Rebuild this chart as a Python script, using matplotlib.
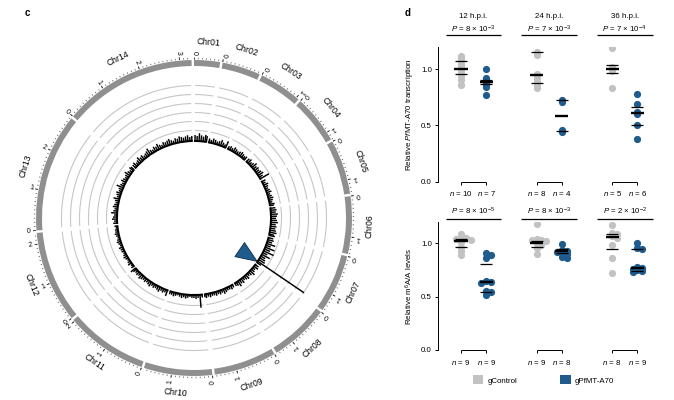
import numpy as np
import matplotlib
matplotlib.use('Agg')
import matplotlib.pyplot as plt
from matplotlib.patches import Patch

plt.rcParams['font.family'] = ['Liberation Sans', 'DejaVu Sans']
plt.rcParams['mathtext.fontset'] = 'custom'
plt.rcParams['mathtext.rm'] = 'Liberation Sans'
plt.rcParams['mathtext.it'] = 'Liberation Sans:italic'
plt.rcParams['mathtext.bf'] = 'Liberation Sans:bold'

# ---------------- data: panel c (circos) ----------------
chrom_names = ['Chr01', 'Chr02', 'Chr03', 'Chr04', 'Chr05', 'Chr06', 'Chr07',
               'Chr08', 'Chr09', 'Chr10', 'Chr11', 'Chr12', 'Chr13', 'Chr14']
chrom_sizes_mb = [0.640, 0.947, 1.067, 1.200, 1.344, 1.418, 1.446,
                  1.473, 1.542, 1.688, 2.039, 2.272, 2.926, 3.292]
bin_mb = 0.1
hist_chr01 = [6, 5, 8, 6, 5, 7, 6]
hist_chr02 = [4, 3, 5, 4, 3, 4, 6, 4, 3, 7]
hist_chr03 = [3, 4, 3, 5, 4, 3, 4, 5, 4, 3, 4]
hist_chr04 = [4, 5, 3, 4, 6, 4, 5, 4, 5, 6, 4, 10]
hist_chr05 = [4, 3, 5, 4, 3, 4, 5, 3, 4, 5, 4, 3, 5, 4]
hist_chr06 = [5, 6, 5, 7, 6, 5, 6, 7, 5, 6, 5, 6, 7, 5, 6]
hist_chr07 = [5, 6, 5, 9, 5, 10, 6, 11, 5, 9, 5, 6, 7, 56, 5]
hist_chr08 = [4, 5, 3, 4, 6, 4, 3, 5, 4, 3, 5, 4, 6, 4, 3]
hist_chr09 = [3, 4, 3, 3, 4, 5, 3, 4, 3, 4, 3, 3, 4, 3, 4, 3]
hist_chr10 = [3, 13, 3, 4, 3, 3, 2, 3, 4, 3, 4, 3, 2, 3, 4, 3, 3]
hist_chr11 = [6, 3, 4, 3, 5, 4, 3, 4, 3, 5, 4, 3, 4, 3, 4, 5, 3, 4, 3, 4, 6]
hist_chr12 = [3, 2, 4, 3, 2, 3, 4, 3, 2, 3, 3, 4, 2, 3, 4, 3, 2, 3, 4, 3, 3, 2, 3]
hist_chr13 = [4, 3, 5, 4, 3, 6, 4, 3, 5, 4, 3, 4, 6, 3, 4, 5, 3, 4, 7, 4,
              3, 5, 4, 3, 4, 6, 4, 3, 5, 4]
hist_chr14 = [4, 5, 3, 4, 6, 4, 5, 3, 4, 5, 7, 4, 3, 5, 4, 6, 4, 3, 5, 4,
              5, 6, 4, 3, 5, 4, 6, 5, 4, 5, 6, 4, 5]
hist_all = [hist_chr01, hist_chr02, hist_chr03, hist_chr04, hist_chr05, hist_chr06,
            hist_chr07, hist_chr08, hist_chr09, hist_chr10, hist_chr11, hist_chr12,
            hist_chr13, hist_chr14]
gene_chrom = 'Chr07'
gene_pos_mb = 1.35

# ---------------- data: panel d ----------------
time_labels = ['12 h.p.i.', '24 h.p.i.', '36 h.p.i.']
cond_labels = ['gControl', 'gPfMT-A70']
trans_p = ['8 × 10$^{-3}$', '7 × 10$^{-3}$', '7 × 10$^{-4}$']
trans_ctrl = [[1.12, 1.10, 1.08, 1.05, 1.02, 1.00, 0.97, 0.94, 0.90, 0.86],
              [1.15, 1.13, 0.96, 0.94, 0.92, 0.89, 0.86, 0.83],
              [1.19, 1.02, 1.00, 0.98, 0.83]]
trans_ko = [[1.00, 0.92, 0.90, 0.88, 0.86, 0.84, 0.77],
            [0.73, 0.71, 0.46, 0.44],
            [0.78, 0.69, 0.62, 0.60, 0.50, 0.38]]
trans_ctrl_mid = [1.00, 0.946, 1.00]
trans_ctrl_hi = [1.077, 1.15, 1.035]
trans_ctrl_lo = [0.955, 0.88, 0.97]
trans_ko_mid = [0.884, 0.584, 0.608]
trans_ko_hi = [0.905, 0.724, 0.667]
trans_ko_lo = [0.866, 0.45, 0.507]

m6a_p = ['8 × 10$^{-5}$', '8 × 10$^{-3}$', '2 × 10$^{-2}$']
m6a_ctrl = [[1.09, 1.05, 1.05, 1.04, 1.03, 1.01, 0.97, 0.93, 0.89],
            [1.18, 1.04, 1.03, 1.03, 1.02, 1.00, 0.98, 0.96, 0.90],
            [1.17, 1.10, 1.09, 1.07, 1.05, 0.98, 0.86, 0.72]]
m6a_ko = [[0.91, 0.89, 0.86, 0.65, 0.64, 0.63, 0.55, 0.54, 0.52],
          [0.99, 0.94, 0.93, 0.92, 0.91, 0.90, 0.87, 0.86],
          [1.00, 0.96, 0.95, 0.78, 0.77, 0.76, 0.75, 0.74, 0.73]]
m6a_ctrl_mid = [1.02, 1.00, 1.06]
m6a_ctrl_hi = [1.04, 1.02, 1.09]
m6a_ctrl_lo = [0.966, 0.97, 0.945]
m6a_ko_mid = [0.64, 0.93, 0.77]
m6a_ko_hi = [0.81, 0.95, 0.945]
m6a_ko_lo = [0.545, 0.906, 0.74]

# ---------------- style ----------------
GRAY = '#c2c2c2'
BLUE = '#1f5b8c'
W, H = 674, 400
fig = plt.figure(figsize=(W / 100, H / 100), dpi=100)

# ================= panel c =================
cx, cy, R = 194, 218, 190
axc = fig.add_axes([(cx - R) / W, (H - cy - R) / H, 2 * R / W, 2 * R / H], projection='polar')
axc.set_theta_zero_location('N')
axc.set_theta_direction(-1)
axc.set_ylim(0, R)
axc.axis('off')

gap = 0.9
total = sum(chrom_sizes_mb)
dpm = (360 - gap * len(chrom_sizes_mb)) / total
starts = []
cur = 0.0
for s in chrom_sizes_mb:
    starts.append(cur)
    cur += s * dpm + gap

ring_in, ring_h = 152, 6
arc_radii = [87.5, 96.5, 105.5, 114.5, 123.5, 132.5]
hist_base = 77
for i, (name, size, st) in enumerate(zip(chrom_names, chrom_sizes_mb, starts)):
    span = size * dpm
    axc.bar(np.radians(st + span / 2), ring_h, width=np.radians(span), bottom=ring_in,
            color='#8f8f8f', linewidth=0)
    th = np.radians(np.linspace(st + 0.5, st + span - 0.5, 120))
    for r in arc_radii:
        axc.plot(th, np.full_like(th, r), color='#c6c6c6', lw=0.8, solid_capstyle='butt',
                 zorder=1)
    # histogram (radial lines)
    h = hist_all[i]
    pos = []
    hts = []
    for k, v in enumerate(h):
        lo = k * bin_mb
        w = min(bin_mb, size - lo)
        if w <= 0:
            continue
        pos.append(st + (lo + w / 2) * dpm)
        hts.append(v)
    pos = np.radians(np.array(pos))
    hts = np.array(hts, dtype=float)
    axc.vlines(pos, hist_base, hist_base + hts, color='black', lw=1.05, zorder=3)
    axc.bar(np.radians(st + span / 2), 2.0, width=np.radians(span), bottom=hist_base - 1.0,
            color='black', linewidth=0, zorder=3)
    # ticks
    minors = np.arange(0, size + 1e-9, 0.1)
    axc.vlines(np.radians(st + minors * dpm), ring_in + ring_h + 0.8, ring_in + ring_h + 2.2,
               color='#444444', lw=0.5)
    majors = np.arange(0, int(np.floor(size)) + 1)
    axc.vlines(np.radians(st + majors * dpm), ring_in + ring_h + 0.8, ring_in + ring_h + 3.5,
               color='#222222', lw=0.6)
    for m in majors:
        ang = st + m * dpm
        rot = (270 - ang) % 360
        axc.text(np.radians(ang), 165.5, str(int(m)), fontsize=5, rotation=rot,
                 ha='center', va='center', rotation_mode='anchor')
    mid = st + span / 2
    rot = (-mid) % 360
    if 90 < mid < 270:
        rot = (rot + 180) % 360
    axc.text(np.radians(mid), 176, name, fontsize=6.2, rotation=rot,
             ha='center', va='center', rotation_mode='anchor')

# marker triangle pointing at the gene
gi = chrom_names.index(gene_chrom)
g_ang = starts[gi] + gene_pos_mb * dpm
a = np.radians(90 - g_ang)
tri = np.array([[4 / 3, 0], [-2 / 3, 0.81], [-2 / 3, -0.81], [4 / 3, 0]])
rotm = np.array([[np.cos(a), -np.sin(a)], [np.sin(a), np.cos(a)]])
tri_r = tri @ rotm.T
M = np.abs(tri_r).max()
axc.plot([np.radians(g_ang)], [62], marker=tri_r, markersize=2 * M * 10.5 * 0.72,
         color=BLUE, markeredgecolor='#0e2d48', markeredgewidth=0.6, linestyle='none',
         zorder=4)

fig.text(25 / W, 1 - 13 / H, 'c', fontsize=7, fontweight='bold', ha='left', va='center')
fig.text(405 / W, 1 - 13 / H, 'd', fontsize=7, fontweight='bold', ha='left', va='center')

# ================= panel d =================
x_px_unit = 25.2
x0_px = 461


def swarm(vals, ypu, min_dist=2.2, step=4.8):
    vals = np.asarray(vals)
    order = np.argsort(-vals)
    placed = []
    offs = np.zeros(len(vals))
    cands = [0.0]
    for j in range(1, 8):
        cands += [j * step, -j * step]
    for i in order:
        y = vals[i] * ypu
        chosen = 0.0
        for c in cands:
            if all(np.hypot(c - px, y - py) >= min_dist for px, py in placed):
                chosen = c
                break
        placed.append((chosen, y))
        offs[i] = chosen / x_px_unit
    return offs


def draw_panel(ax, ctrl, ko, cm, chi, clo, km, khi, klo, pvals, ypu, ylabel,
               p_y, line_y, head_y=None):
    gx = [0, 3, 6]
    for g in range(3):
        for vals, xc, col in ((ctrl[g], gx[g], GRAY), (ko[g], gx[g] + 1, BLUE)):
            off = swarm(vals, ypu)
            ax.scatter(xc + off, vals, s=27, color=col, linewidths=0, zorder=2)
        for xc, m, hi, lo in ((gx[g], cm[g], chi[g], clo[g]), (gx[g] + 1, km[g], khi[g], klo[g])):
            ax.hlines([hi, lo], xc - 0.24, xc + 0.24, color='black', lw=0.9, zorder=3)
            ax.hlines(m, xc - 0.26, xc + 0.26, color='black', lw=1.7, zorder=3)
        c = gx[g] + 0.5
        ax.hlines(line_y, c - 1.1, c + 1.1, color='black', lw=0.9, clip_on=False)
        ax.text(c, p_y, '$\\it{P}$ = ' + pvals[g], fontsize=5.7, ha='center', va='center',
                clip_on=False)
        if head_y is not None:
            ax.text(c, head_y, time_labels[g], fontsize=5.7, ha='center', va='center',
                    clip_on=False)
        ax.hlines(0, gx[g], gx[g] + 1, color='black', lw=0.7, clip_on=False)
    ax.set_ylim(0, 1.2)
    ax.set_xlim((438 - x0_px) / x_px_unit, (660 - x0_px) / x_px_unit)
    ax.set_yticks([0, 0.5, 1.0])
    ax.set_yticklabels(['0.0', '0.5', '1.0'])
    xt = [0, 1, 3, 4, 6, 7]
    ns = []
    for g in range(3):
        ns += [len(ctrl[g]), len(ko[g])]
    ax.set_xticks(xt)
    ax.set_xticklabels(['$\\it{n}$ = %d' % n for n in ns])
    for s in ('top', 'right', 'bottom'):
        ax.spines[s].set_visible(False)
    ax.spines['left'].set_linewidth(0.7)
    ax.tick_params(axis='both', labelsize=5.7, length=2.5, width=0.7, pad=2)
    ax.tick_params(axis='x', pad=3)
    ax.set_ylabel(ylabel, fontsize=5.7)
    ax.yaxis.set_label_coords((415 - 438) / 222, 0.5)
    ax.patch.set_alpha(0)


ax1 = fig.add_axes([438 / W, (H - 181.7) / H, 222 / W, 135 / H])
draw_panel(ax1, trans_ctrl, trans_ko, trans_ctrl_mid, trans_ctrl_hi, trans_ctrl_lo,
           trans_ko_mid, trans_ko_hi, trans_ko_lo, trans_p, 112.5,
           'Relative $\\it{Pf}$MT-A70 transcription',
           p_y=1.356, line_y=1.308, head_y=1.468)

ax2 = fig.add_axes([438 / W, (H - 350) / H, 222 / W, 128 / H])
draw_panel(ax2, m6a_ctrl, m6a_ko, m6a_ctrl_mid, m6a_ctrl_hi, m6a_ctrl_lo,
           m6a_ko_mid, m6a_ko_hi, m6a_ko_lo, m6a_p, 106.7,
           'Relative m$^6$A/A levels',
           p_y=1.296, line_y=1.228)

handles = [Patch(facecolor=GRAY, edgecolor='none'), Patch(facecolor=BLUE, edgecolor='none')]
fig.legend(handles, cond_labels, loc='center left', bbox_to_anchor=(472.7 / W, 1 - 380 / H),
           ncol=2, frameon=False, fontsize=5.7, handlelength=1.35, handleheight=1.35,
           handletextpad=0.5, columnspacing=5.4, borderpad=0, borderaxespad=0)

fig.savefig('out.png', dpi=100)
